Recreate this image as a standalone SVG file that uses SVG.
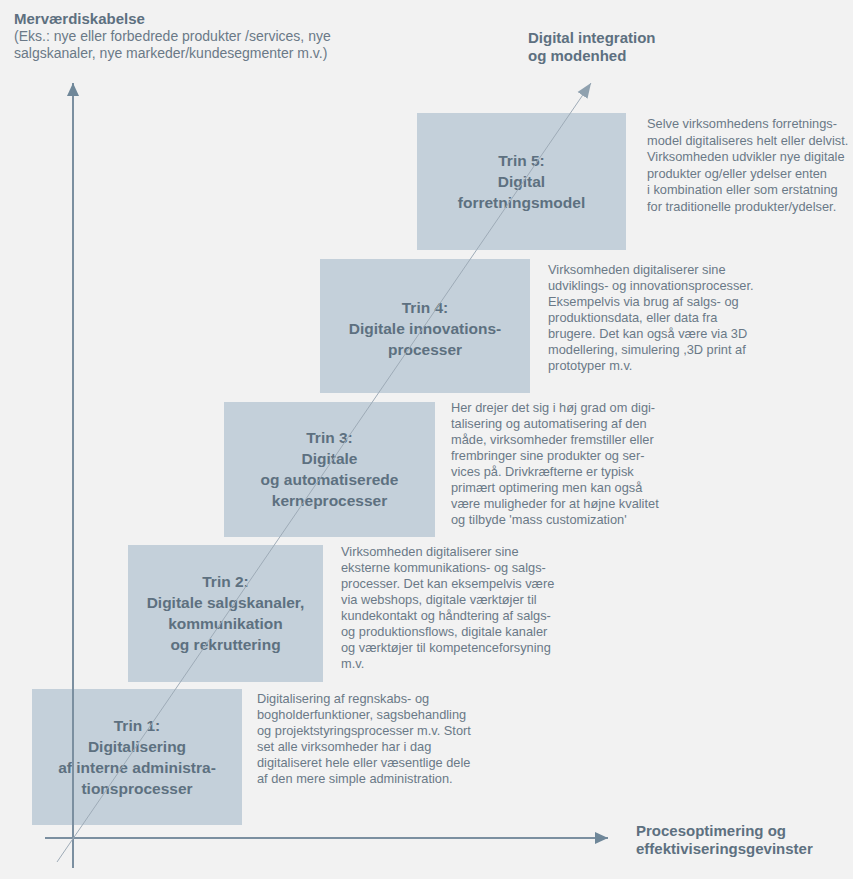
<svg xmlns="http://www.w3.org/2000/svg" width="853" height="879" viewBox="0 0 853 879">
<style>
.bg{fill:#f2f2f2}
.box{fill:#c4d0da}
.title{font-family:"Liberation Sans",Arial,sans-serif;font-weight:bold;font-size:15.5px;fill:#5d7080;text-anchor:middle}
.body{font-family:"Liberation Sans",Arial,sans-serif;font-size:12.8px;fill:#6a7987}
.head{font-family:"Liberation Sans",Arial,sans-serif;font-weight:bold;font-size:15px;fill:#5d7080}
.sub{font-family:"Liberation Sans",Arial,sans-serif;font-size:14px;fill:#6a7987}
.axis{stroke:#7b8fa0;stroke-width:2;fill:none}
.diag{stroke:#9eabb7;stroke-width:1;fill:none}
</style>
<defs>
<marker id="axhead" markerUnits="userSpaceOnUse" markerWidth="14" markerHeight="14" viewBox="0 0 14 14" refX="13" refY="7" orient="auto">
<path d="M0,1 L13,7 L0,13 Z" fill="#6f8799"/>
</marker>
<marker id="dghead" markerUnits="userSpaceOnUse" markerWidth="16" markerHeight="16" viewBox="0 0 16 16" refX="15" refY="8" orient="auto">
<path d="M0,2 L15,8 L0,14 Z" fill="#8fa1af"/>
</marker>
</defs>
<rect class="bg" x="0" y="0" width="853" height="879"/>

<g id="label-y">
<text class="head" x="14" y="24">Merværdiskabelse</text>
<text class="sub" x="14" y="41">(Eks.: nye eller forbedrede produkter /services, nye</text>
<text class="sub" x="14" y="58">salgskanaler, nye markeder/kundesegmenter m.v.)</text>
</g>
<g id="label-diag">
<text class="head" x="528" y="43">Digital integration</text>
<text class="head" x="528" y="61">og modenhed</text>
</g>
<g id="label-x">
<text class="head" x="636" y="836">Procesoptimering og</text>
<text class="head" x="636" y="854">effektiviseringsgevinster</text>
</g>

<g id="trin5">
<rect class="box" x="417" y="113" width="209" height="137"/>
<text class="title" x="521.5" y="166">Trin 5:</text>
<text class="title" x="521.5" y="187">Digital</text>
<text class="title" x="521.5" y="208">forretningsmodel</text>
<text class="body" x="647">
<tspan x="647" y="128">Selve virksomhedens forretnings-</tspan>
<tspan x="647" y="144.5">model digitaliseres helt eller delvist.</tspan>
<tspan x="647" y="161">Virksomheden udvikler nye digitale</tspan>
<tspan x="647" y="177.5">produkter og/eller ydelser enten</tspan>
<tspan x="647" y="194">i kombination eller som erstatning</tspan>
<tspan x="647" y="210.5">for traditionelle produkter/ydelser.</tspan>
</text>
</g>

<g id="trin4">
<rect class="box" x="320" y="259" width="210" height="134"/>
<text class="title" x="425" y="313">Trin 4:</text>
<text class="title" x="425" y="334">Digitale innovations-</text>
<text class="title" x="425" y="355">processer</text>
<text class="body" x="548">
<tspan x="548" y="274">Virksomheden digitaliserer sine</tspan>
<tspan x="548" y="290">udviklings- og innovationsprocesser.</tspan>
<tspan x="548" y="306">Eksempelvis via brug af salgs- og</tspan>
<tspan x="548" y="322">produktionsdata, eller data fra</tspan>
<tspan x="548" y="338">brugere. Det kan også være via 3D</tspan>
<tspan x="548" y="354">modellering, simulering ,3D print af</tspan>
<tspan x="548" y="370">prototyper m.v.</tspan>
</text>
</g>

<g id="trin3">
<rect class="box" x="224" y="402" width="211" height="135"/>
<text class="title" x="329.5" y="443">Trin 3:</text>
<text class="title" x="329.5" y="464">Digitale</text>
<text class="title" x="329.5" y="485">og automatiserede</text>
<text class="title" x="329.5" y="506">kerneprocesser</text>
<text class="body" x="451">
<tspan x="451" y="412">Her drejer det sig i høj grad om digi-</tspan>
<tspan x="451" y="428">talisering og automatisering af den</tspan>
<tspan x="451" y="444">måde, virksomheder fremstiller eller</tspan>
<tspan x="451" y="460">frembringer sine produkter og ser-</tspan>
<tspan x="451" y="476">vices på. Drivkræfterne er typisk</tspan>
<tspan x="451" y="492">primært optimering men kan også</tspan>
<tspan x="451" y="508">være muligheder for at højne kvalitet</tspan>
<tspan x="451" y="524">og tilbyde 'mass customization'</tspan>
</text>
</g>

<g id="trin2">
<rect class="box" x="128" y="545" width="195" height="137"/>
<text class="title" x="225.5" y="587">Trin 2:</text>
<text class="title" x="225.5" y="608">Digitale salgskanaler,</text>
<text class="title" x="225.5" y="629">kommunikation</text>
<text class="title" x="225.5" y="650">og rekruttering</text>
<text class="body" x="341">
<tspan x="341" y="556">Virksomheden digitaliserer sine</tspan>
<tspan x="341" y="572">eksterne kommunikations- og salgs-</tspan>
<tspan x="341" y="588">processer. Det kan eksempelvis være</tspan>
<tspan x="341" y="604">via webshops, digitale værktøjer til</tspan>
<tspan x="341" y="620">kundekontakt og håndtering af salgs-</tspan>
<tspan x="341" y="636">og produktionsflows, digitale kanaler</tspan>
<tspan x="341" y="652">og værktøjer til kompetenceforsyning</tspan>
<tspan x="341" y="668">m.v.</tspan>
</text>
</g>

<g id="trin1">
<rect class="box" x="32" y="689" width="210" height="136"/>
<text class="title" x="137" y="731">Trin 1:</text>
<text class="title" x="137" y="752">Digitalisering</text>
<text class="title" x="137" y="773">af interne administra-</text>
<text class="title" x="137" y="794">tionsprocesser</text>
<text class="body" x="257">
<tspan x="257" y="703">Digitalisering af regnskabs- og</tspan>
<tspan x="257" y="719">bogholderfunktioner, sagsbehandling</tspan>
<tspan x="257" y="735">og projektstyringsprocesser m.v. Stort</tspan>
<tspan x="257" y="751">set alle virksomheder har i dag</tspan>
<tspan x="257" y="767">digitaliseret hele eller væsentlige dele</tspan>
<tspan x="257" y="783">af den mere simple administration.</tspan>
</text>
</g>

<g id="connectors">
<line class="axis" x1="73" y1="868" x2="73" y2="83" marker-end="url(#axhead)"/>
<line class="axis" x1="45" y1="838" x2="608" y2="838" marker-end="url(#axhead)"/>
<line class="diag" x1="57" y1="862" x2="591" y2="83" marker-end="url(#dghead)"/>
</g>
</svg>
